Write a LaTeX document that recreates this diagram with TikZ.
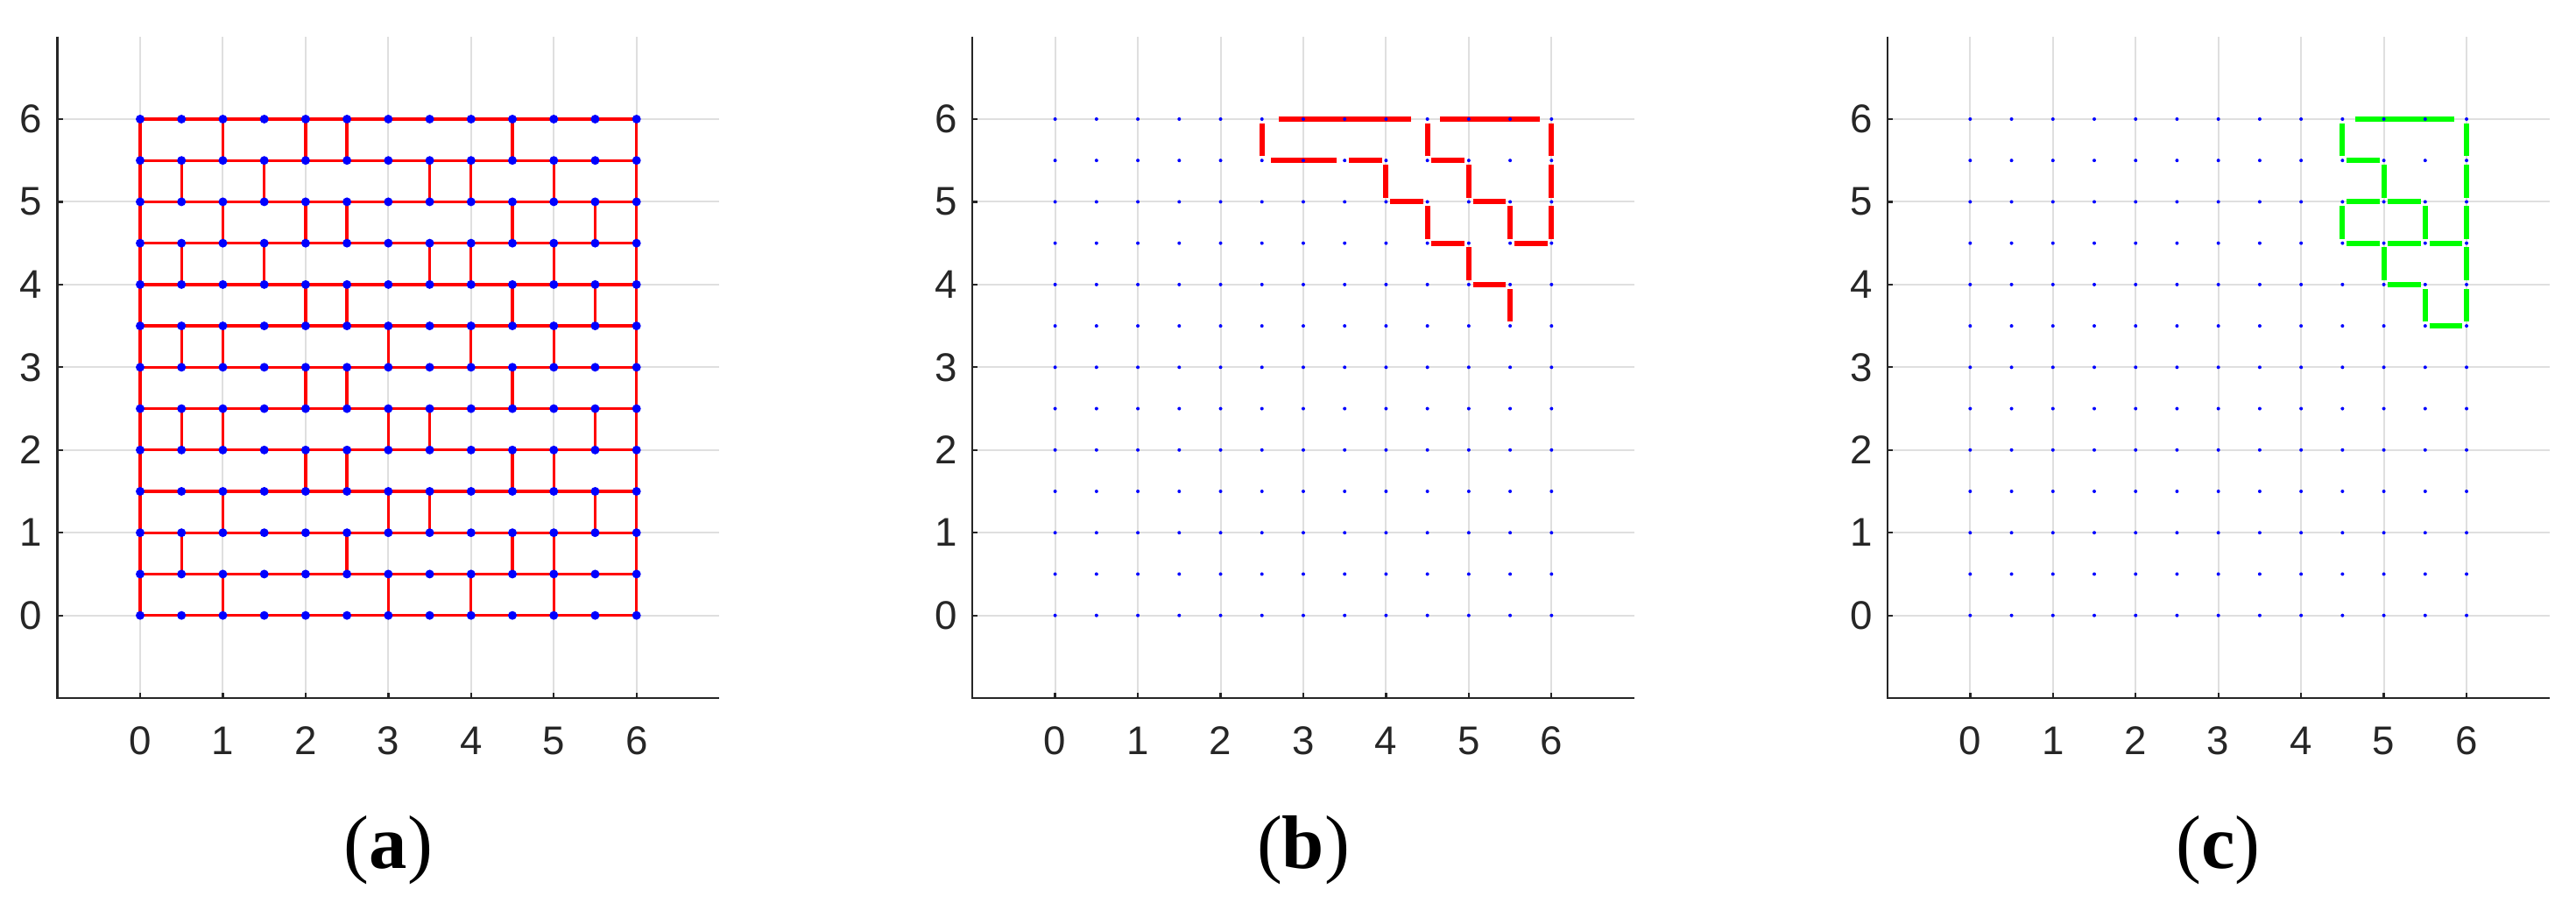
\documentclass[tikz,border=0pt]{standalone}
\usepackage{fontspec}
\setmainfont{Liberation Serif}
\newfontfamily\tickfont{Liberation Sans}
\definecolor{axisgray}{HTML}{262626}
\definecolor{gridgray}{HTML}{DFDFDF}
\definecolor{purered}{RGB}{255,0,0}
\definecolor{puregreen}{RGB}{0,255,0}
\definecolor{pureblue}{RGB}{0,0,255}
\tikzset{
  gridline/.style={draw=gridgray, line width=0.6pt},
  axisline/.style={draw=axisgray, line width=0.7pt},
  ticklabel/.style={font=\tickfont\fontsize{13.7}{16}\selectfont, text=axisgray, inner sep=0pt, anchor=center},
  captionlabel/.style={font=\fontsize{26}{30}\selectfont, inner sep=0pt, anchor=base},
  edgeA/.style={draw=purered, line width=1pt},
  edgeB/.style={draw=purered, line width=1.8pt},
  edgeC/.style={draw=puregreen, line width=1.8pt},
  bigdot/.style={fill=pureblue},
  smalldot/.style={fill=pureblue},
}
% axes frame with grid, ticks and tick labels; #1 = name prefix
\newcommand{\plotframe}[1]{%
  \foreach \t in {0,...,6} {
    \draw[gridline] (\t,-1) -- (\t,7);
    \draw[gridline] (-1,\t) -- (7,\t);
  }
  \draw[axisline] (-1,7) -- (-1,-1) -- (7,-1);
  \foreach \t in {0,...,6} {
    \draw[axisline] (\t,-1) -- ++(0,0.0635);
    \draw[axisline] (-1,\t) -- ++(0.0635,0);
    \node[ticklabel] (#1-x\t) at (\t,-1.517) {\t};
    \node[ticklabel] (#1-y\t) at (-1.318,\t) {\t};
  }
}
\newcommand{\smalldots}{%
  \foreach \i in {0,...,12} \foreach \j in {0,...,12}
    \fill[smalldot] (\i/2,\j/2) circle[radius=0.6pt];
}
\begin{document}
\begin{tikzpicture}[x=28.335pt, y=28.335pt]
\useasboundingbox (0pt,0pt) rectangle (882.3pt,309.3pt);

% ---------------- panel (a) ----------------
\begin{scope}[shift={(48pt,98.49pt)}]
  \plotframe{a}
  \foreach \j in {0,...,12} \draw[edgeA] (0,\j/2) -- (6,\j/2);
  \draw[edgeA] (0,0) -- (0,6);
  \draw[edgeA] (6,0) -- (6,6);
  \foreach \j/\lst in {0/{2,6,8,10}, 1/{1,5,9,10}, 2/{2,6,7,11}, 3/{4,5,9,10},
                       4/{1,2,6,7,11}, 5/{4,5,9}, 6/{1,2,6,8,10}, 7/{4,5,9,11},
                       8/{1,3,7,8,10}, 9/{2,4,5,9,11}, 10/{1,3,7,8,10}, 11/{2,4,5,9}} {
    \foreach \i in \lst \draw[edgeA] (\i/2,\j/2) -- (\i/2,\j/2+0.5);
  }
  \foreach \i in {0,...,12} \foreach \j in {0,...,12}
    \fill[bigdot] (\i/2,\j/2) circle[radius=1.5pt];
  \node[captionlabel] (capa) at (3,-3.06) {(\textbf{a})};
\end{scope}

% ---------------- panel (b) ----------------
\begin{scope}[shift={(361.38pt,98.49pt)}]
  \plotframe{b}
  \foreach \y/\a/\b in {6/2.70/4.30, 6/4.655/5.855,
                        5.5/2.61/3.40, 5.5/3.555/3.95, 5.5/4.55/4.95,
                        5/4.05/4.45, 5/5.05/5.45,
                        4.5/4.55/4.95, 4.5/5.55/5.95,
                        4/5.05/5.45}
    \draw[edgeB] (\a,\y) -- (\b,\y);
  \foreach \x/\a/\b in {2.5/5.55/5.95, 4/5.05/5.45,
                        4.5/5.55/5.95, 4.5/4.55/4.95,
                        5/5.05/5.45, 5/4.05/4.45,
                        5.5/4.55/4.95, 5.5/3.55/3.95,
                        6/5.55/5.95, 6/5.05/5.45, 6/4.55/4.95}
    \draw[edgeB] (\x,\a) -- (\x,\b);
  \smalldots
  \node[captionlabel] (capb) at (3,-3.06) {(\textbf{b})};
\end{scope}

% ---------------- panel (c) ----------------
\begin{scope}[shift={(674.79pt,98.49pt)}]
  \plotframe{c}
  \foreach \y/\a/\b in {6/4.65/5.855,
                        5.5/4.55/4.95,
                        5/4.55/4.95, 5/5.05/5.45,
                        4.5/4.55/4.95, 4.5/5.05/5.45, 4.5/5.55/5.95,
                        4/5.05/5.45,
                        3.5/5.55/5.95}
    \draw[edgeC] (\a,\y) -- (\b,\y);
  \foreach \x/\a/\b in {4.5/5.55/5.95, 4.5/4.55/4.95,
                        5/5.05/5.45, 5/4.05/4.45,
                        5.5/4.55/4.95, 5.5/3.55/3.95,
                        6/5.55/5.95, 6/5.05/5.45, 6/4.55/4.95, 6/4.05/4.45, 6/3.55/3.95}
    \draw[edgeC] (\x,\a) -- (\x,\b);
  \smalldots
  \node[captionlabel] (capc) at (3,-3.06) {(\textbf{c})};
\end{scope}
\end{tikzpicture}
\end{document}
